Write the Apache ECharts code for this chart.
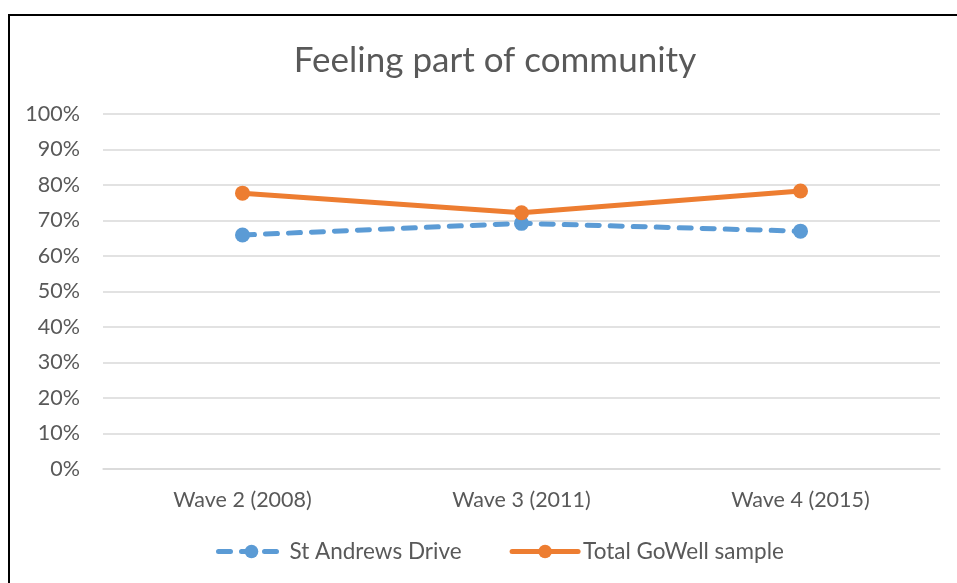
<!DOCTYPE html>
<html>
<head>
<meta charset="utf-8">
<script src="https://cdn.jsdelivr.net/npm/echarts@6/dist/echarts.min.js"></script>
<style>
  html, body { margin: 0; padding: 0; background: #fff; }
  #chart { width: 957px; height: 583px; }
</style>
</head>
<body>
<div id="chart"></div>
<script>
// Share of respondents feeling part of their community, by survey wave
const waves = ['Wave 2 (2008)', 'Wave 3 (2011)', 'Wave 4 (2015)'];
const stAndrewsDrive = [65.9, 69.2, 67.0];
const totalGoWell = [77.7, 72.2, 78.3];

const FONT = 'Lato, "Open Sans", sans-serif';
const TEXT = '#595959';

const chart = echarts.init(document.getElementById('chart'), null, { renderer: 'canvas' });
chart.setOption({
  backgroundColor: '#fff',
  animation: false,
  title: {
    text: 'Feeling part of community',
    left: 490,
    textAlign: 'center',
    top: 38,
    textStyle: { fontFamily: FONT, fontSize: 35, fontWeight: 'normal', color: TEXT }
  },
  graphic: [{
    type: 'rect',
    shape: { x: 9, y: 15, width: 1000, height: 700 },
    style: { fill: 'none', stroke: '#000', lineWidth: 2 },
    silent: true
  }],
  grid: { left: 103, right: 17, top: 114, bottom: 114 },
  legend: {
    bottom: 15,
    left: 211,
    itemWidth: 66,
    itemHeight: 17,
    itemGap: 48,
    lineStyle: { width: 5, cap: 'round' },
    textStyle: { fontFamily: FONT, fontSize: 22.5, color: TEXT },
    data: ['St Andrews Drive', 'Total GoWell sample']
  },
  xAxis: {
    type: 'category',
    data: waves,
    boundaryGap: true,
    axisLine: { show: true, lineStyle: { color: '#d9d9d9', width: 1.5 } },
    axisTick: { show: false },
    axisLabel: { fontFamily: FONT, fontSize: 21.5, color: TEXT, margin: 20 }
  },
  yAxis: {
    type: 'value',
    min: 0,
    max: 100,
    interval: 10,
    axisLine: { show: false },
    axisTick: { show: false },
    splitLine: { lineStyle: { color: '#d9d9d9', width: 1.5 } },
    axisLabel: { fontFamily: FONT, fontSize: 21.5, color: TEXT, margin: 23, formatter: '{value}%' }
  },
  series: [
    {
      name: 'St Andrews Drive',
      type: 'line',
      data: stAndrewsDrive,
      symbol: 'circle',
      symbolSize: 15,
      itemStyle: { color: '#5b9bd5' },
      lineStyle: { color: '#5b9bd5', width: 5, type: [12, 11], cap: 'round' },
      z: 2
    },
    {
      name: 'Total GoWell sample',
      type: 'line',
      data: totalGoWell,
      symbol: 'circle',
      symbolSize: 15,
      itemStyle: { color: '#ed7d31' },
      lineStyle: { color: '#ed7d31', width: 5 },
      z: 3
    }
  ]
});
</script>
</body>
</html>
